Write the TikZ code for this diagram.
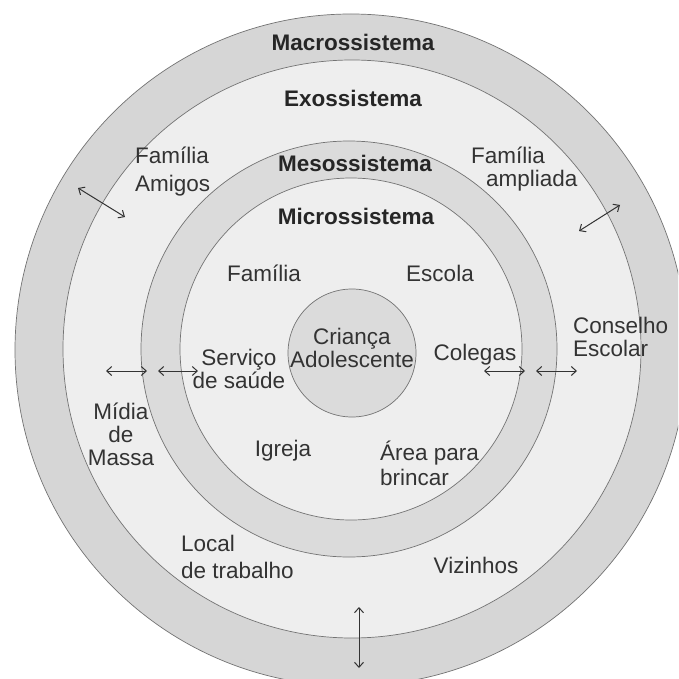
\documentclass[tikz,border=0pt]{standalone}
\usepackage{fontspec}
\setmainfont{Liberation Sans}
\usetikzlibrary{arrows.meta}

\begin{document}
\begin{tikzpicture}[
    x=1pt, y=-1pt,
    font=\fontsize{22.5}{23}\selectfont,
    ring/.style={circle, draw=black!55, line width=0.7pt, inner sep=0pt},
    ttl/.style={font=\fontsize{22.5}{23}\selectfont\bfseries, text=black!85, inner sep=0pt},
    lbl/.style={align=center, text=black!80, inner sep=0pt},
    arr/.style={{Straight Barb[length=5pt,width=9pt]}-{Straight Barb[length=5pt,width=9pt]}, line width=1pt, black!80}
  ]
    \useasboundingbox (0,0) rectangle (678,679);
    \clip (0,0) rectangle (678,679);
    % systems, from outside in
    \node[ring, fill=gray!32, minimum size=672pt] (macro) at (351,350) {};
    \node[ring, fill=gray!13, minimum size=578pt] (exo) at (352,349) {};
    \node[ring, fill=gray!28, minimum size=416pt] (meso) at (349,349) {};
    \node[ring, fill=gray!13, minimum size=342pt] (micro) at (351,349) {};
    \node[ring, fill=gray!28, minimum size=128pt] (child) at (352,353) {};
    \node[lbl] (childtxt) at (352,348) {Criança\\Adolescente};
    % titles
    \node[ttl] (tmacro) at (353,42) {Macrossistema};
    \node[ttl] (texo) at (353,98) {Exossistema};
    \node[ttl] (tmeso) at (355,163) {Mesossistema};
    \node[ttl] (tmicro) at (356,216) {Microssistema};
    % exosystem
    \node[lbl, align=left, anchor=west] (famamig) at (135,172) {Família\\[5pt]Amigos};
    \node[lbl, align=left, anchor=west] (famampl) at (471,169) {Família\\\hspace*{15pt}ampliada};
    \node[lbl, align=left, anchor=west] (conselho) at (573,337) {Conselho\\Escolar};
    \node[lbl] (midia) at (121,434) {Mídia\\de\\Massa};
    \node[lbl, align=left, anchor=west] (local) at (181,557) {Local\\[4pt]de trabalho};
    \node[lbl] (vizinhos) at (476,565) {Vizinhos};
    % microsystem
    \node[lbl] (fam) at (264,273) {Família};
    \node[lbl] (escola) at (440,273) {Escola};
    \node[lbl] (servico) at (239,369) {Serviço\\de saúde};
    \node[lbl] (colegas) at (475,355) {Colegas};
    \node[lbl] (igreja) at (283,451) {Igreja};
    \node[lbl, align=left, anchor=west] (area) at (380,463) {Área para\\[2pt]brincar};
    % arrows
    \coordinate (ul1) at (78,188);   \coordinate (ul2) at (125,217);
    \coordinate (ur1) at (620,205);  \coordinate (ur2) at (579,231);
    \coordinate (l1) at (106,371);   \coordinate (l2) at (147,371);
    \coordinate (l3) at (158,371);   \coordinate (l4) at (198,371);
    \coordinate (r1) at (484,371);   \coordinate (r2) at (525,371);
    \coordinate (r3) at (536,371);   \coordinate (r4) at (577,371);
    \coordinate (b1) at (359,607);   \coordinate (b2) at (359,668);
    \draw[arr] (ul1) -- (ul2);
    \draw[arr] (ur1) -- (ur2);
    \draw[arr] (l1) -- (l2);
    \draw[arr] (l3) -- (l4);
    \draw[arr] (r1) -- (r2);
    \draw[arr] (r3) -- (r4);
    \draw[arr] (b1) -- (b2);
\end{tikzpicture}
\end{document}
